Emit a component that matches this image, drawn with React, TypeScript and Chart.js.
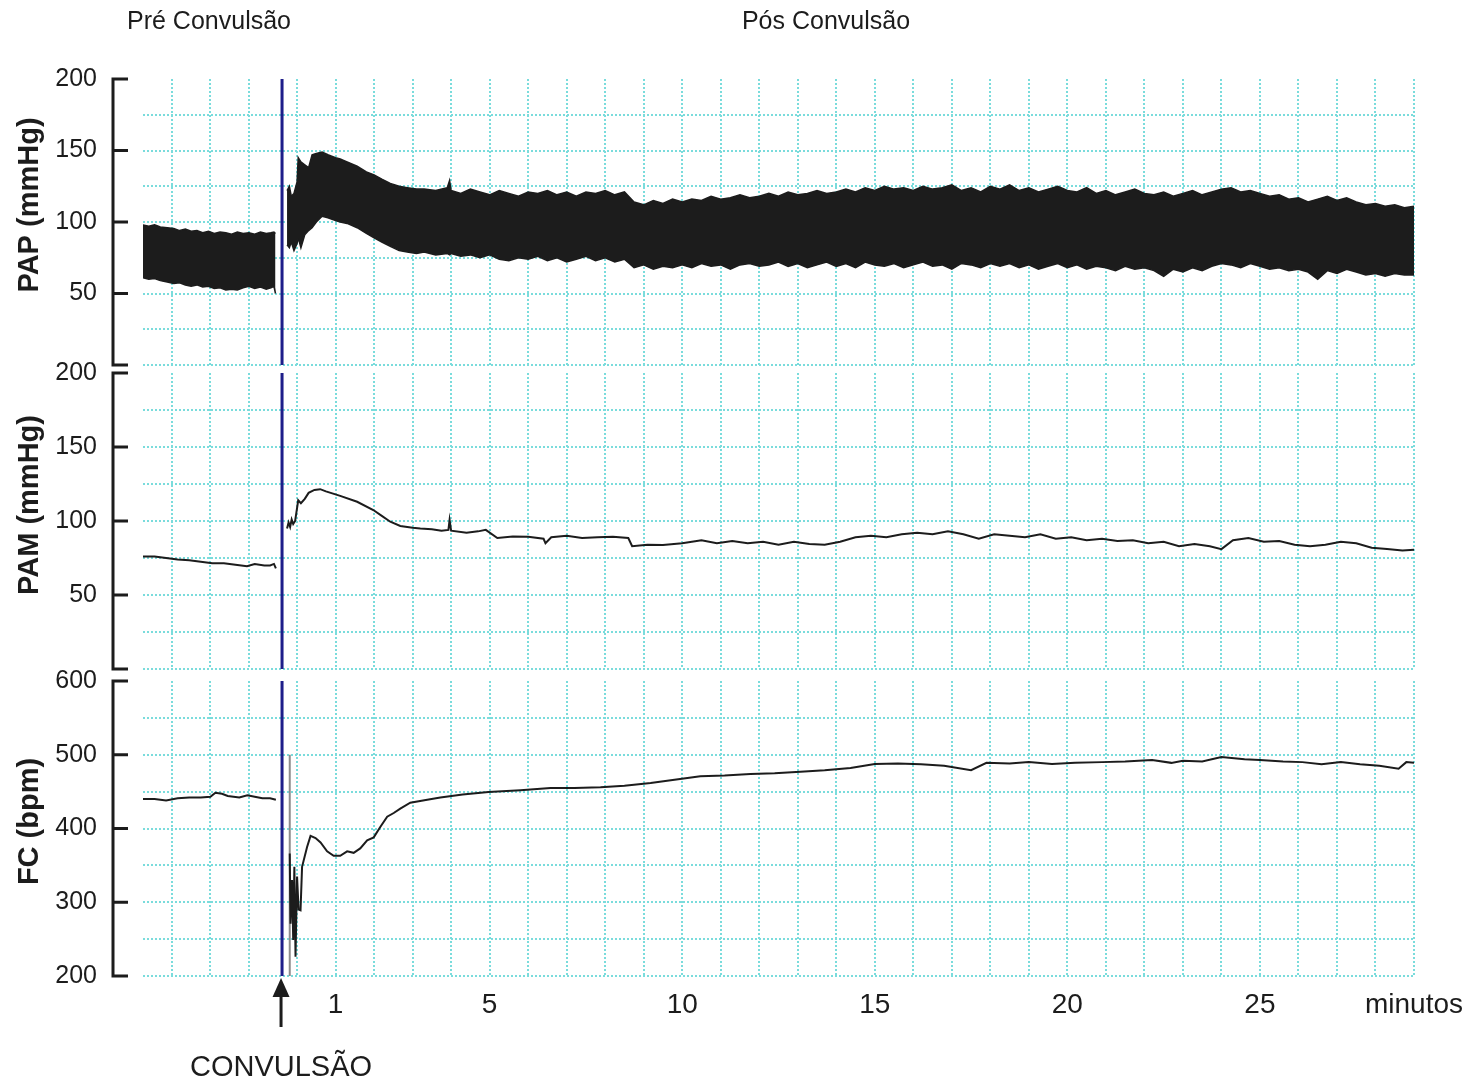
import React, { useEffect, useRef } from 'react';
import { Chart, registerables } from 'chart.js';

Chart.register(...registerables);

// ---------- Data ----------
const TOP_LABELS = ['Pré Convulsão', 'Pós Convulsão'];
const EVENT_LABEL = 'CONVULSÃO';
const CONVULSION_T = -0.39;

const X_GRID = [-3.25, -2.25, -1.25, 0, 1, 2, 3, 4, 5, 6, 7, 8, 9, 10, 11, 12, 13, 14, 15, 16, 17, 18, 19, 20, 21, 22, 23, 24, 25, 26, 27, 28, 29];
const X_TICK_VALUES = [1, 5, 10, 15, 20, 25, 29];
const X_TICK_TEXT = ['1', '5', '10', '15', '20', '25', 'minutos'];

const PAP_TITLE = 'PAP (mmHg)';
const PAM_TITLE = 'PAM (mmHg)';
const FC_TITLE = 'FC (bpm)';
const PAP_Y_LABELS = [50, 100, 150, 200];
const PAM_Y_LABELS = [50, 100, 150, 200];
const FC_Y_LABELS = [200, 300, 400, 500, 600];

// PAP (pulsatile band: upper and lower envelope)
const PAP_PRE_T = [-4.0, -3.85, -3.7, -3.55, -3.37, -3.2, -3.05, -2.9, -2.75, -2.6, -2.45, -2.3, -2.15, -2.0, -1.85, -1.7, -1.55, -1.4, -1.25, -1.1, -0.95, -0.8, -0.68, -0.6, -0.56];
const PAP_PRE_TOP = [98, 97, 98, 96.5, 96, 95.5, 94, 95, 93.5, 94, 92.5, 93.5, 92, 93, 92.5, 91.5, 93, 92, 92.5, 91.5, 93, 92, 92.5, 93, 92];
const PAP_PRE_BOT = [61, 60, 60.5, 59, 58, 57, 57.5, 56, 55, 56, 54.5, 55, 53.5, 54, 52.5, 53, 52.5, 54, 55, 53.5, 54.5, 53, 54, 55, 50];

const PAP_POST_T = [-0.26, -0.2, -0.15, -0.08, 0.0, 0.03, 0.1, 0.2, 0.3, 0.39, 0.5, 0.65, 0.8, 1.0, 1.12, 1.3, 1.56, 1.8, 2.0, 2.2, 2.42, 2.65, 2.86, 3.1, 3.3, 3.6, 3.9, 3.96,
  4.0, 4.25, 4.5, 4.75, 5.0, 5.25, 5.5, 5.75, 6.0, 6.25, 6.5, 6.75, 7.0, 7.25, 7.5, 7.75, 8.0, 8.25, 8.5, 8.75, 9.0, 9.25, 9.5, 9.75, 10.0,
  10.25, 10.5, 10.75, 11.0, 11.25, 11.5, 11.75, 12.0, 12.25, 12.5, 12.75, 13.0, 13.25, 13.5, 13.75, 14.0, 14.25, 14.5, 14.75, 15.0, 15.25, 15.5, 15.75, 16.0,
  16.25, 16.5, 16.75, 17.0, 17.25, 17.5, 17.75, 18.0, 18.25, 18.5, 18.75, 19.0, 19.25, 19.5, 19.75, 20.0, 20.25, 20.5, 20.75, 21.0, 21.25, 21.5, 21.75, 22.0,
  22.25, 22.5, 22.75, 23.0, 23.25, 23.5, 23.75, 24.0, 24.25, 24.5, 24.75, 25.0, 25.25, 25.5, 25.75, 26.0, 26.25, 26.5, 26.75, 27.0, 27.25, 27.5, 27.75, 28.0,
  28.25, 28.5, 28.75, 29.0];
const PAP_POST_TOP = [122, 125, 118, 120, 128, 145, 142, 140, 138, 147, 148, 149, 147, 145, 144, 142, 139, 135, 133, 130, 127, 125, 124, 123, 123, 122, 124, 129,
  122, 120, 123, 121, 119, 122, 120, 118, 121, 120, 122, 119, 121, 118, 121, 120, 122, 119, 121, 114, 112, 115, 113, 116, 114,
  116, 115, 118, 116, 117, 119, 117, 118, 120, 118, 121, 119, 120, 122, 120, 121, 123, 121, 124, 122, 125, 123, 124, 122,
  125, 123, 124, 126, 122, 124, 121, 125, 123, 126, 122, 124, 121, 123, 125, 122, 121, 124, 120, 122, 119, 121, 123, 120,
  119, 121, 118, 120, 122, 119, 121, 123, 124, 121, 122, 120, 118, 119, 116, 117, 114, 116, 118, 115, 117, 114, 112, 113,
  111, 112, 110, 111];
const PAP_POST_BOT = [84, 82, 86, 80, 85, 89, 82, 91, 94, 96, 100, 104, 103, 101, 100, 99, 96, 92, 89, 86, 83, 80, 79, 78, 79, 77, 78, 77,
  78, 76, 77, 75, 77, 74, 73, 75, 74, 76, 73, 75, 72, 74, 76, 73, 75, 72, 74, 68, 70, 67, 69, 68, 70,
  68, 71, 69, 70, 67, 70, 71, 69, 70, 72, 69, 71, 68, 70, 72, 69, 71, 68, 72, 70, 69, 71, 68, 70,
  72, 69, 70, 67, 71, 70, 68, 71, 69, 71, 68, 70, 67, 69, 71, 68, 70, 67, 69, 68, 66, 69, 67, 68,
  66, 62, 67, 65, 68, 66, 69, 71, 70, 68, 71, 69, 67, 68, 66, 67, 65, 60, 66, 64, 67, 65, 63, 64,
  62, 64, 63, 63];

// PAM (mean pressure trace)
const PAM_PRE_T = [-4.0, -3.7, -3.4, -3.1, -2.8, -2.5, -2.2, -1.9, -1.6, -1.3, -1.1, -0.85, -0.7, -0.6, -0.55];
const PAM_PRE = [76, 76, 75, 74, 73.5, 72.5, 71.5, 71.5, 70.5, 69.5, 71, 70, 70, 71, 68];
const PAM_POST_T = [-0.26, -0.22, -0.18, -0.14, -0.1, -0.05, 0.03, 0.1, 0.2, 0.3, 0.45, 0.6, 0.75, 1.12, 1.56, 1.98, 2.2, 2.42, 2.68, 3.0, 3.2, 3.5, 3.75, 3.93, 3.96, 4.0, 4.4, 4.7, 4.9, 5.2, 5.6, 6.0, 6.4, 6.45, 6.6, 7.0, 7.4, 7.8, 8.2, 8.6, 8.7, 9.1, 9.5, 10.0, 10.5, 10.9, 11.3, 11.7, 12.1, 12.5, 12.9, 13.3, 13.7, 14.1, 14.5, 14.9, 15.3, 15.7, 16.1, 16.5, 16.9, 17.3, 17.7, 18.1, 18.5, 18.9, 19.3, 19.7, 20.1, 20.5, 20.9, 21.3, 21.7, 22.1, 22.5, 22.9, 23.3, 23.7, 24.0, 24.3, 24.7, 25.1, 25.5, 25.9, 26.3, 26.7, 27.1, 27.5, 27.9, 28.3, 28.7, 29.0];
const PAM_POST = [95, 99, 96, 101, 98, 100, 114, 112, 115, 119, 121, 121.5, 120, 117, 113, 107.4, 103.5, 99.5, 96.6, 95.5, 95, 94.5, 93.5, 94, 100.7, 93.5, 92, 93, 94, 88.5, 89.5, 89.4, 88, 85, 89, 90, 88.5, 89, 89.4, 88.5, 83, 84, 83.8, 85, 87, 85, 86.5, 85, 86, 84, 86, 84.5, 84, 86, 89, 90, 89, 91, 92, 91, 93, 91, 88, 91, 90, 89, 91, 88, 89, 87, 88, 86.5, 87, 85, 86, 83, 84.5, 83, 81, 87, 88.5, 86, 86.5, 84, 83, 84, 86, 85, 82, 81, 80, 80.5];

// FC (heart rate trace)
const FC_PRE_T = [-4.0, -3.7, -3.4, -3.1, -2.8, -2.5, -2.25, -2.12, -1.95, -1.8, -1.5, -1.29, -1.1, -0.9, -0.7, -0.55];
const FC_PRE = [440, 440, 438, 441, 442, 442, 443, 448.5, 447, 444, 442, 445, 443, 441, 441, 439];
const FC_POST_T = [-0.19, -0.17, -0.13, -0.1, -0.07, -0.04, 0.0, 0.04, 0.09, 0.13, 0.26, 0.35, 0.48, 0.61, 0.78, 0.95, 1.12, 1.3, 1.47, 1.64, 1.82, 1.99, 2.16, 2.34, 2.51, 2.68, 2.94, 3.38, 3.72, 4.3, 4.97, 5.8, 6.58, 7.2, 7.88, 8.5, 9.18, 9.8, 10.47, 11.1, 11.77, 12.4, 13.07, 13.7, 14.37, 15.0, 15.6, 16.2, 16.8, 17.5, 17.9, 18.5, 19.0, 19.6, 20.2, 20.9, 21.5, 22.2, 22.7, 23.0, 23.5, 24.0, 24.6, 25.0, 25.6, 26.1, 26.6, 27.1, 27.6, 28.1, 28.6, 28.8, 29.0];
const FC_POST = [366, 271, 330, 249, 348, 226, 335, 290, 289, 348, 375, 390, 387, 381, 369, 363, 363, 369, 367, 373, 384, 388, 402, 416, 421, 427, 435, 439, 442, 446, 449.5, 452, 455, 455, 456, 458, 461.7, 466, 471, 472, 474, 475, 477, 479, 482, 487.5, 488, 487, 485, 479, 489, 488, 490, 487.5, 489, 490, 491, 493, 489, 492, 491, 497, 494, 493, 491, 490, 487, 490, 487, 485, 481, 490, 489];
const FC_GRAY_T = [-0.19, -0.19];
const FC_GRAY = [500, 200];

// ---------- Styling ----------
const FONT = '"Liberation Sans", Arial, Helvetica, sans-serif';
const INK = '#1c1c1c';
const GRID = '#7adcdc';
const BLUE = '#1e1e8a';
const W = 1469;
const H = 1084;
const PLOT_LEFT = 143;
const PLOT_RIGHT = 1414;

const pts = (ts: number[], vs: number[]) => ts.map((t, i) => ({ x: t, y: vs[i] }));

const bracketPlugin = {
  id: 'bracket',
  afterDraw(chart: any, _a: any, opts: any) {
    const y = chart.scales.y;
    const { ctx, chartArea } = chart;
    const x0 = chartArea.left - 30;
    ctx.save();
    ctx.strokeStyle = INK;
    ctx.lineWidth = 3;
    ctx.beginPath();
    ctx.moveTo(x0, y.getPixelForValue(y.max));
    ctx.lineTo(x0, y.getPixelForValue(y.min));
    for (const v of [y.min, ...opts.marks]) {
      const p = y.getPixelForValue(v);
      ctx.moveTo(x0 - 1.5, p);
      ctx.lineTo(x0 + 15, p);
    }
    ctx.stroke();
    ctx.translate(30, (chartArea.top + chartArea.bottom) / 2 + opts.dy);
    ctx.rotate(-Math.PI / 2);
    ctx.font = `bold 29px ${FONT}`;
    ctx.fillStyle = INK;
    ctx.textAlign = 'center';
    ctx.textBaseline = 'middle';
    ctx.fillText(opts.title, 0, 0);
    ctx.restore();
  },
};

const notesPlugin = {
  id: 'notes',
  afterDraw(chart: any, _a: any, opts: any) {
    const { ctx } = chart;
    const xs = chart.scales.x;
    ctx.save();
    ctx.fillStyle = INK;
    ctx.strokeStyle = INK;
    if (opts.top) {
      ctx.font = `25px ${FONT}`;
      ctx.textAlign = 'center';
      ctx.textBaseline = 'middle';
      ctx.fillText(TOP_LABELS[0], 209, 22);
      ctx.fillText(TOP_LABELS[1], 826, 22);
    }
    if (opts.arrow) {
      const ax = xs.getPixelForValue(CONVULSION_T) - 1;
      const yTip = chart.chartArea.bottom + 2;
      ctx.lineWidth = 3;
      ctx.beginPath();
      ctx.moveTo(ax, yTip + 14);
      ctx.lineTo(ax, 1027);
      ctx.stroke();
      ctx.beginPath();
      ctx.moveTo(ax, yTip);
      ctx.lineTo(ax - 8.5, yTip + 19);
      ctx.lineTo(ax + 8.5, yTip + 19);
      ctx.closePath();
      ctx.fill();
      ctx.font = `29px ${FONT}`;
      ctx.textAlign = 'center';
      ctx.textBaseline = 'middle';
      ctx.fillText(EVENT_LABEL, ax, 1068);
    }
    ctx.restore();
  },
};

function lineDs(data: any[], color = INK, width = 2, extra: any = {}) {
  return { data, borderColor: color, backgroundColor: color, borderWidth: width, pointRadius: 0, tension: 0, ...extra };
}

function buildConfig(p: any) {
  const xHeight = p.showX ? 50 : 0;
  return {
    type: 'line',
    data: { datasets: p.datasets },
    plugins: [bracketPlugin, notesPlugin],
    options: {
      animation: false,
      responsive: false,
      events: [],
      layout: { padding: { left: 0, right: W - PLOT_RIGHT, top: p.top, bottom: H - p.bottom - xHeight } },
      plugins: {
        legend: { display: false },
        tooltip: { enabled: false },
        bracket: { marks: p.labels, title: p.title, dy: p.dy },
        notes: { top: !!p.topNotes, arrow: !!p.arrow },
      },
      scales: {
        x: {
          type: 'linear',
          min: -4,
          max: 29,
          afterBuildTicks: (s: any) => { s.ticks = X_GRID.map((v) => ({ value: v })); },
          afterFit: (s: any) => { s.height = xHeight; s.paddingLeft = 0; s.paddingRight = 0; },
          grid: { color: GRID, lineWidth: 2, drawTicks: false },
          border: { display: false, dash: [2, 2] },
          ticks: {
            display: !!p.showX,
            autoSkip: false,
            maxRotation: 0,
            padding: 12,
            color: INK,
            font: { family: FONT, size: 28 },
            callback: (v: number) => { const i = X_TICK_VALUES.indexOf(v); return i >= 0 ? X_TICK_TEXT[i] : ''; },
          },
        },
        y: {
          type: 'linear',
          position: 'left',
          min: p.min,
          max: p.max,
          afterFit: (s: any) => { s.width = PLOT_LEFT; },
          grid: {
            color: (c: any) => (c.tick && c.tick.value === p.max ? 'rgba(0,0,0,0)' : GRID),
            lineWidth: 2,
            drawTicks: false,
          },
          border: { display: false, dash: [2, 2] },
          ticks: {
            stepSize: p.step,
            autoSkip: false,
            padding: 46,
            color: INK,
            font: { family: FONT, size: 25 },
            callback: (v: number) => (p.labels.includes(v) ? String(v) : ''),
          },
        },
      },
    },
  };
}

const PAP_CONFIG = () => buildConfig({
  top: 79, bottom: 365, min: 0, max: 200, step: 25, labels: PAP_Y_LABELS, title: PAP_TITLE, dy: -17, topNotes: true,
  datasets: [
    lineDs(pts(PAP_PRE_T, PAP_PRE_TOP), INK, 1.5, { fill: '+1' }),
    lineDs(pts(PAP_PRE_T, PAP_PRE_BOT), INK, 1.5),
    lineDs(pts(PAP_POST_T, PAP_POST_TOP), INK, 1.5, { fill: '+1' }),
    lineDs(pts(PAP_POST_T, PAP_POST_BOT), INK, 1.5),
    lineDs(pts([CONVULSION_T, CONVULSION_T], [200, 0]), BLUE, 3),
  ],
});

const PAM_CONFIG = () => buildConfig({
  top: 373, bottom: 669, min: 0, max: 200, step: 25, labels: PAM_Y_LABELS, title: PAM_TITLE, dy: -16,
  datasets: [
    lineDs(pts(PAM_PRE_T, PAM_PRE), INK, 2),
    lineDs(pts(PAM_POST_T, PAM_POST), INK, 2),
    lineDs(pts([CONVULSION_T, CONVULSION_T], [200, 0]), BLUE, 3),
  ],
});

const FC_CONFIG = () => buildConfig({
  top: 681, bottom: 976, min: 200, max: 600, step: 50, labels: FC_Y_LABELS, title: FC_TITLE, dy: -7, showX: true, arrow: true,
  datasets: [
    lineDs(pts(FC_PRE_T, FC_PRE), INK, 2),
    lineDs(pts(FC_POST_T, FC_POST), INK, 2),
    lineDs(pts(FC_GRAY_T, FC_GRAY), '#8c8c8c', 2),
    lineDs(pts([CONVULSION_T, CONVULSION_T], [600, 200]), BLUE, 3),
  ],
});

function Panel({ build }: { build: () => any }) {
  const ref = useRef<HTMLCanvasElement>(null);
  useEffect(() => {
    const chart = new Chart(ref.current as HTMLCanvasElement, build());
    return () => chart.destroy();
  }, [build]);
  return <canvas ref={ref} width={W} height={H} style={{ position: 'absolute', left: 0, top: 0 }} />;
}

export default function App() {
  return (
    <div style={{ position: 'absolute', left: 0, top: 0, width: W, height: H, background: '#fff', overflow: 'hidden' }}>
      <Panel build={PAP_CONFIG} />
      <Panel build={PAM_CONFIG} />
      <Panel build={FC_CONFIG} />
    </div>
  );
}
